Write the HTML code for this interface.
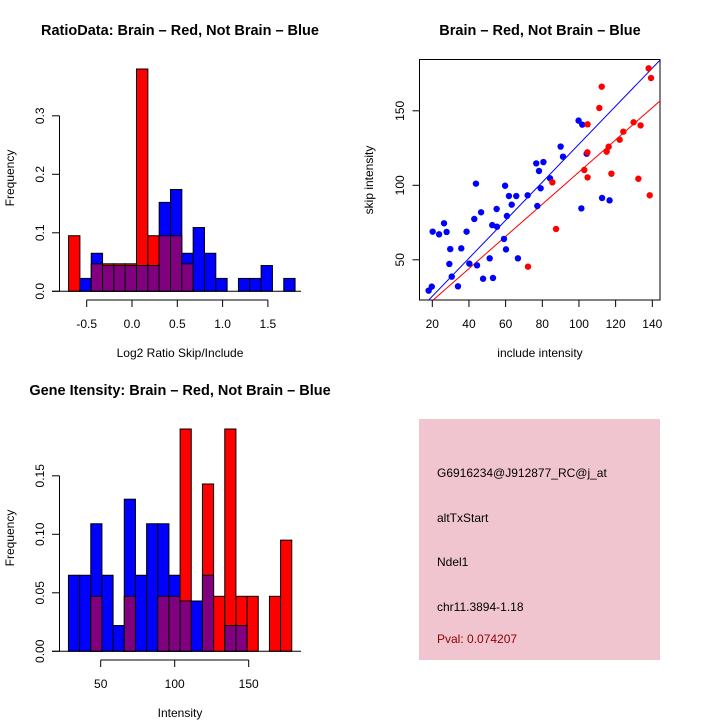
<!DOCTYPE html>
<html><head><meta charset="utf-8"><style>
html,body{margin:0;padding:0;background:#fff;}
svg{display:block;font-family:"Liberation Sans",sans-serif;}
</style></head><body>
<svg id="fig" width="720" height="720" viewBox="0 0 720 720" xmlns="http://www.w3.org/2000/svg">
<rect x="0" y="0" width="720" height="720" fill="#fff"/>
<text x="180" y="35" text-anchor="middle" font-size="14.5" font-weight="bold">RatioData: Brain – Red, Not Brain – Blue</text>
<text x="540" y="35" text-anchor="middle" font-size="14.5" font-weight="bold">Brain – Red, Not Brain – Blue</text>
<text x="180" y="395" text-anchor="middle" font-size="14.5" font-weight="bold">Gene Itensity: Brain – Red, Not Brain – Blue</text>
<text x="180" y="357" text-anchor="middle" font-size="12">Log2 Ratio Skip/Include</text>
<text transform="translate(14,178) rotate(-90)" text-anchor="middle" font-size="12">Frequency</text>
<text x="180" y="717" text-anchor="middle" font-size="12">Intensity</text>
<text transform="translate(14,538) rotate(-90)" text-anchor="middle" font-size="12">Frequency</text>
<text x="540" y="357" text-anchor="middle" font-size="12">include intensity</text>
<text transform="translate(373,180) rotate(-90)" text-anchor="middle" font-size="12">skip intensity</text>
<g>
<rect x="419" y="419" width="241" height="241" fill="#f1c5cf"/>
<text x="437" y="477" font-size="12">G6916234@J912877_RC@j_at</text>
<text x="437" y="522" font-size="12">altTxStart</text>
<text x="437" y="566" font-size="12">Ndel1</text>
<text x="437" y="611" font-size="12">chr11.3894-1.18</text>
<text x="437" y="643" font-size="12" fill="#8b0000">Pval: 0.074207</text>
</g>
</svg>
<script>
// ---- Ratio histogram data ----
const ratioBinStart = -0.7;
const ratioBinWidth = 0.125;
const ratioRed = [0.095,0,0.047,0.047,0.047,0.047,0.38,0.095,0.095,0.095,0.047,0,0,0,0,0,0,0,0,0];
const ratioBlue = [0,0.022,0.065,0.044,0.044,0.044,0.044,0.044,0.152,0.174,0.065,0.109,0.065,0.022,0,0.022,0.022,0.044,0,0.022];
const ratioXTicks = [-0.5,0,0.5,1,1.5];
const ratioXTickLabels = ["-0.5","0.0","0.5","1.0","1.5"];
const ratioYTicks = [0,0.1,0.2,0.3];
const ratioYTickLabels = ["0.0","0.1","0.2","0.3"];
// ---- Intensity histogram data ----
const intBinStart = 28.2;
const intBinWidth = 7.545;
const intRed = [0,0,0.047,0,0,0.047,0,0,0.047,0.047,0.19,0,0.143,0.047,0.19,0.047,0.047,0,0.047,0.095];
const intBlue = [0.065,0.065,0.109,0.065,0.022,0.130,0.065,0.109,0.109,0.065,0.043,0.043,0.065,0,0.022,0.022,0,0,0,0];
const intXTicks = [50,100,150];
const intXTickLabels = ["50","100","150"];
const intYTicks = [0,0.05,0.1,0.15];
const intYTickLabels = ["0.00","0.05","0.10","0.15"];
// ---- Scatter data ----
const blueX = [18.0,19.7,20.2,23.7,26.4,27.8,29.8,29.3,30.6,34.0,35.8,38.7,40.2,44.4,42.9,43.8,46.6,47.7,51.3,52.7,53.1,55.1,55.3,59.1,60.2,59.7,60.7,61.8,63.3,65.8,66.7,72.0,76.7,77.3,78.2,79.1,80.6,84.2,90.0,91.3,99.8,101.8,101.3,104.2,112.6,116.7];
const blueY = [29.3,32.0,68.9,67.1,74.5,68.7,57.2,47.2,38.7,32.2,57.7,68.9,47.4,46.3,77.4,101.1,81.9,37.3,51.0,73.3,37.8,84.1,72.2,64.0,57.0,99.7,79.4,92.8,87.0,92.8,51.0,93.3,114.7,86.1,109.6,98.0,115.6,104.7,126.0,119.2,143.4,140.7,84.5,121.2,91.5,89.9];
const redX = [72.2,85.5,87.5,102.9,104.7,104.6,104.7,111.1,112.4,115.1,116.2,117.7,122.2,124.2,129.8,132.4,133.6,138.0,139.3,138.6];
const redY = [45.4,102.0,70.7,110.3,140.9,122.1,105.3,151.9,166.2,122.6,125.9,107.8,130.6,136.0,142.3,104.4,140.2,178.5,172.0,93.3];
const blueFit = [0.0, 1.276];   // intercept, slope
const redFit = [0.9, 1.08];
const scXTicks = [20,40,60,80,100,120,140];
const scYTicks = [50,100,150];

const NS = "http://www.w3.org/2000/svg";
const svg = document.getElementById('fig');
function mk(tag, attrs, parent){
  const e = document.createElementNS(NS, tag);
  for (const k in attrs) e.setAttribute(k, attrs[k]);
  (parent||svg).appendChild(e);
  return e;
}

function histogram(opts){
  const g = mk('g', {});
  
  
  const xs = v => opts.x0px + (v - opts.x0val) * opts.xscale;
  const ys = v => opts.y0px - v * opts.yscale;
  const n = opts.red.length;
  for (let i = 0; i < n; i++) {
    const a = opts.binStart + i * opts.binWidth, b = a + opts.binWidth;
    const x1 = xs(a), x2 = xs(b);
    const r = opts.red[i], bl = opts.blue[i];
    const top = Math.max(r, bl), low = Math.min(r, bl);
    if (top > 0) {
      const rect = mk('rect', {x:x1, y:ys(top), width:x2-x1, height:ys(0)-ys(top), fill: r>=bl ? '#ff0000' : '#0000ff', stroke:'#000', 'stroke-width':1}, g);
      
      
    }
    if (low > 0) {
      const rect = mk('rect', {x:x1, y:ys(low), width:x2-x1, height:ys(0)-ys(low), fill:'#800080', stroke:'#000', 'stroke-width':1}, g);
      
      
    }
  }
  const bl = mk('line', {x1:52, x2:301, y1:ys(0), y2:ys(0), stroke:'#000', 'stroke-width':1}, g);
  
  
  const yt = opts.yTicks;
  const ya = mk('line', {x1:59.5, x2:59.5, y1:ys(yt[0]), y2:ys(yt[yt.length-1]), stroke:'#000'}, g);
  
  
  yt.forEach((t, i) => {
    mk('line', {x1:52, x2:59.5, y1:ys(t), y2:ys(t), stroke:'#000'}, g);
    const tx = mk('text', {transform:`translate(44,${ys(t)}) rotate(-90)`, 'text-anchor':'middle', 'font-size':12}, g);
    tx.textContent = opts.yLabels[i];
    
    
  });
  const xt = opts.xTicks;
  const xa = mk('line', {x1:xs(xt[0]), x2:xs(xt[xt.length-1]), y1:opts.xAxisY, y2:opts.xAxisY, stroke:'#000'}, g);
  
  
  xt.forEach((t, i) => {
    mk('line', {x1:xs(t), x2:xs(t), y1:opts.xAxisY, y2:opts.xAxisY+7, stroke:'#000'}, g);
    const tx = mk('text', {x:xs(t), y:opts.xAxisY+28, 'text-anchor':'middle', 'font-size':12}, g);
    tx.textContent = opts.xLabels[i];
    
    
  });
}

histogram({name:'ratio-histogram', red:ratioRed, blue:ratioBlue, binStart:ratioBinStart, binWidth:ratioBinWidth,
  x0px:132, x0val:0, xscale:90.6, y0px:291.3, yscale:585, xAxisY:300,
  xTicks:ratioXTicks, xLabels:ratioXTickLabels, yTicks:ratioYTicks, yLabels:ratioYTickLabels});

histogram({name:'intensity-histogram', red:intRed, blue:intBlue, binStart:intBinStart, binWidth:intBinWidth,
  x0px:100.7, x0val:50, xscale:1.48, y0px:651.3, yscale:1170, xAxisY:660,
  xTicks:intXTicks, xLabels:intXTickLabels, yTicks:intYTicks, yLabels:intYTickLabels});

(function(){
  const g = mk('g', {});
  
  
  const L=419.5, R=660, T=59.5, B=300;
  const xs = v => 432.3 + (v - 20) * 1.8333;
  const ys = v => 185.3 - (v - 100) * 1.49;
  const clip = mk('clipPath', {id:'scclip'}, g);
  mk('rect', {x:L, y:T, width:R-L, height:B-T}, clip);
  const box = mk('rect', {x:L, y:T, width:R-L, height:B-T, fill:'none', stroke:'#000'}, g);
  
  
  const lines = [[blueFit,'#0000ff','blue-fit-line'],[redFit,'#ff0000','red-fit-line']];
  lines.forEach(([f,c,nm]) => {
    const xa = 0, xb = 160;
    const ln = mk('line', {x1:xs(xa), y1:ys(f[0]+f[1]*xa), x2:xs(xb), y2:ys(f[0]+f[1]*xb), stroke:c, 'stroke-width':1, 'clip-path':'url(#scclip)'}, g);
    
    
  });
  blueX.forEach((x, i) => {
    const c = mk('circle', {cx:xs(x), cy:ys(blueY[i]), r:3.2, fill:'#0000ff'}, g);
    
    
  });
  redX.forEach((x, i) => {
    const c = mk('circle', {cx:xs(x), cy:ys(redY[i]), r:3.2, fill:'#ff0000'}, g);
    
    
  });
  scXTicks.forEach(t => {
    mk('line', {x1:xs(t), x2:xs(t), y1:B, y2:B+7, stroke:'#000'}, g);
    const tx = mk('text', {x:xs(t), y:B+28, 'text-anchor':'middle', 'font-size':12}, g);
    tx.textContent = String(t);
    
    
  });
  scYTicks.forEach(t => {
    mk('line', {x1:L-7, x2:L, y1:ys(t), y2:ys(t), stroke:'#000'}, g);
    const tx = mk('text', {transform:`translate(404,${ys(t)}) rotate(-90)`, 'text-anchor':'middle', 'font-size':12}, g);
    tx.textContent = String(t);
    
    
  });
})();
</script>
</body></html>
